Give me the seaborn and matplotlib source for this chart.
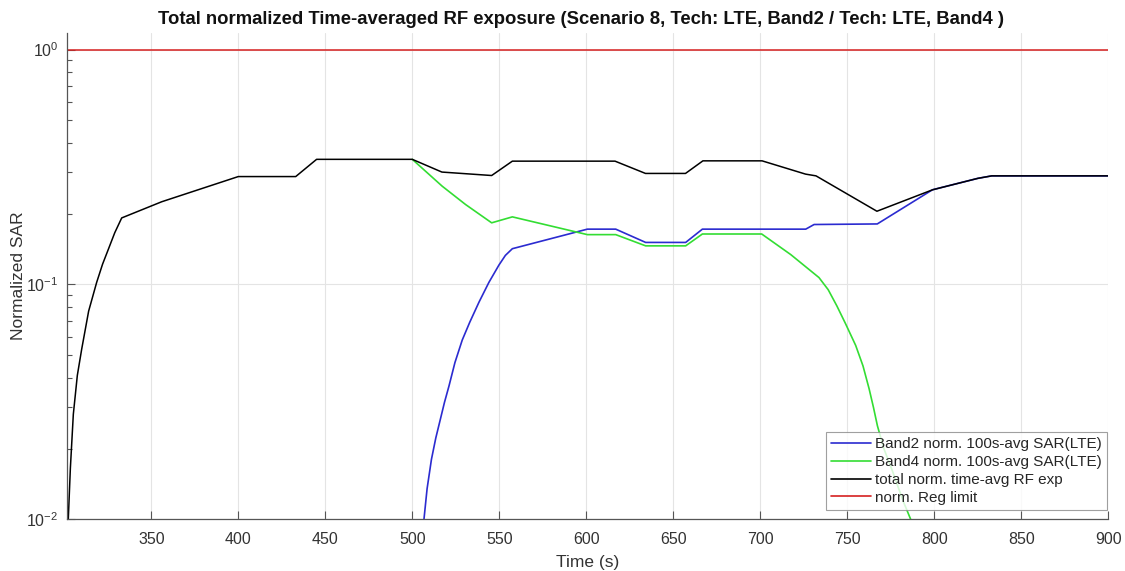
import numpy as np
import matplotlib
matplotlib.use("Agg")
import matplotlib.pyplot as plt
import seaborn as sns
from matplotlib.ticker import LogLocator, NullFormatter

# total normalized time-averaged exposure
total_t = [301, 302.3, 303.5, 305.2, 307.5, 310, 314, 318.6, 322, 325.3, 329, 333, 356,
           400, 433, 445, 500, 517, 545.6, 557.5, 616.5, 634, 657, 667, 701, 726, 732,
           767, 799, 825, 833, 900]
total_y = [0.007, 0.010, 0.0165, 0.028, 0.041, 0.053, 0.077, 0.102, 0.122, 0.141, 0.166,
           0.192, 0.225, 0.288, 0.288, 0.341, 0.341, 0.301, 0.291, 0.335, 0.335, 0.297,
           0.297, 0.336, 0.336, 0.295, 0.290, 0.205, 0.253, 0.283, 0.290, 0.290]

# Band2 (LTE)
band2_t = [505.5, 506.7, 508.5, 511, 513.5, 516.3, 518.5, 521.1, 524.5, 528.7, 533,
           538.3, 544, 549.8, 553.5, 557.5, 600.6, 616.9, 634.1, 657.1, 666.7, 726.1,
           730.9, 767.2, 798.9, 825, 833, 900]
band2_y = [0.008, 0.010, 0.0135, 0.018, 0.0222, 0.027, 0.0315, 0.037, 0.0465, 0.058,
           0.069, 0.084, 0.102, 0.121, 0.133, 0.142, 0.172, 0.172, 0.151, 0.151, 0.172,
           0.172, 0.180, 0.181, 0.253, 0.283, 0.290, 0.290]

# Band4 (LTE)
band4_t = [500, 517.2, 530.6, 545.6, 557.5, 600.6, 616.9, 634.1, 657.1, 666.7, 700.8,
           717.5, 733.7, 739, 744, 749, 754.8, 759, 762.5, 765, 767.3, 771, 776, 782,
           786.4, 789]
band4_y = [0.341, 0.262, 0.219, 0.183, 0.194, 0.163, 0.163, 0.146, 0.146, 0.164, 0.164,
           0.134, 0.107, 0.095, 0.081, 0.068, 0.055, 0.045, 0.036, 0.030, 0.025, 0.020,
           0.016, 0.012, 0.010, 0.008]

limit_t = [301, 900]
limit_y = [1.0, 1.0]

X_TICKS = [350, 400, 450, 500, 550, 600, 650, 700, 750, 800, 850, 900]

sns.set_theme(style="white")
plt.rcParams["font.family"] = ["Liberation Sans", "DejaVu Sans"]

fig = plt.figure(figsize=(11.25, 5.71), dpi=100)
ax = fig.add_axes([0.0593, 0.0905, 0.9259, 0.8522])

sns.lineplot(x=band2_t, y=band2_y, color="#2b2bd0", linewidth=1.2, ax=ax,
             label="Band2 norm. 100s-avg SAR(LTE)", estimator=None, sort=False)
sns.lineplot(x=band4_t, y=band4_y, color="#33dd33", linewidth=1.2, ax=ax,
             label="Band4 norm. 100s-avg SAR(LTE)", estimator=None, sort=False)
sns.lineplot(x=total_t, y=total_y, color="black", linewidth=1.1, ax=ax,
             label="total norm. time-avg RF exp", estimator=None, sort=False)
sns.lineplot(x=limit_t, y=limit_y, color="#d62020", linewidth=1.1, ax=ax,
             label="norm. Reg limit", estimator=None, sort=False)

ax.set_yscale("log")
ax.set_xlim(301.4, 900)
ax.set_ylim(0.01, 1.18)
ax.set_xticks(X_TICKS)
ax.set_xticklabels([str(v) for v in X_TICKS])
ax.yaxis.set_major_locator(LogLocator(base=10, numticks=5))
ax.yaxis.set_minor_locator(LogLocator(base=10, subs=np.arange(2, 10), numticks=20))
ax.yaxis.set_minor_formatter(NullFormatter())

ax.grid(True, which="major", color="#e4e4e4", linewidth=0.8)
ax.set_axisbelow(True)
for side in ["top", "right"]:
    ax.spines[side].set_visible(False)
for side in ["left", "bottom"]:
    ax.spines[side].set_color("#555555")
    ax.spines[side].set_linewidth(0.9)

ax.tick_params(axis="both", which="major", direction="in", length=6, width=0.8,
               colors="#555555", labelcolor="#333333", labelsize=11.5)
ax.tick_params(axis="x", which="major", pad=9)
ax.tick_params(axis="y", which="major", pad=6)
ax.tick_params(axis="y", which="minor", direction="in", length=3.5, width=0.8,
               colors="#555555", left=True)
ax.tick_params(axis="x", which="both", bottom=True)
ax.tick_params(axis="y", which="both", left=True)

ax.set_xlabel("Time (s)", fontsize=12.5, color="#333333", labelpad=6)
ax.set_ylabel("Normalized SAR", fontsize=12.5, color="#333333", labelpad=0)
ax.set_title("Total normalized Time-averaged RF exposure (Scenario 8, Tech: LTE, Band2 / Tech: LTE, Band4 )",
             fontsize=13.3, fontweight="bold", color="#111111", pad=6, x=0.494)

leg = ax.legend(loc="lower right", bbox_to_anchor=(0.999, 0.019), borderaxespad=0,
                fontsize=11, frameon=True, fancybox=False, handlelength=2.6,
                handletextpad=0.3, labelspacing=0.25, borderpad=0.35)
leg.get_frame().set_edgecolor("#888888")
leg.get_frame().set_linewidth(0.8)
for line in leg.get_lines():
    line.set_linewidth(1.2)

fig.savefig("out.png", dpi=100)
